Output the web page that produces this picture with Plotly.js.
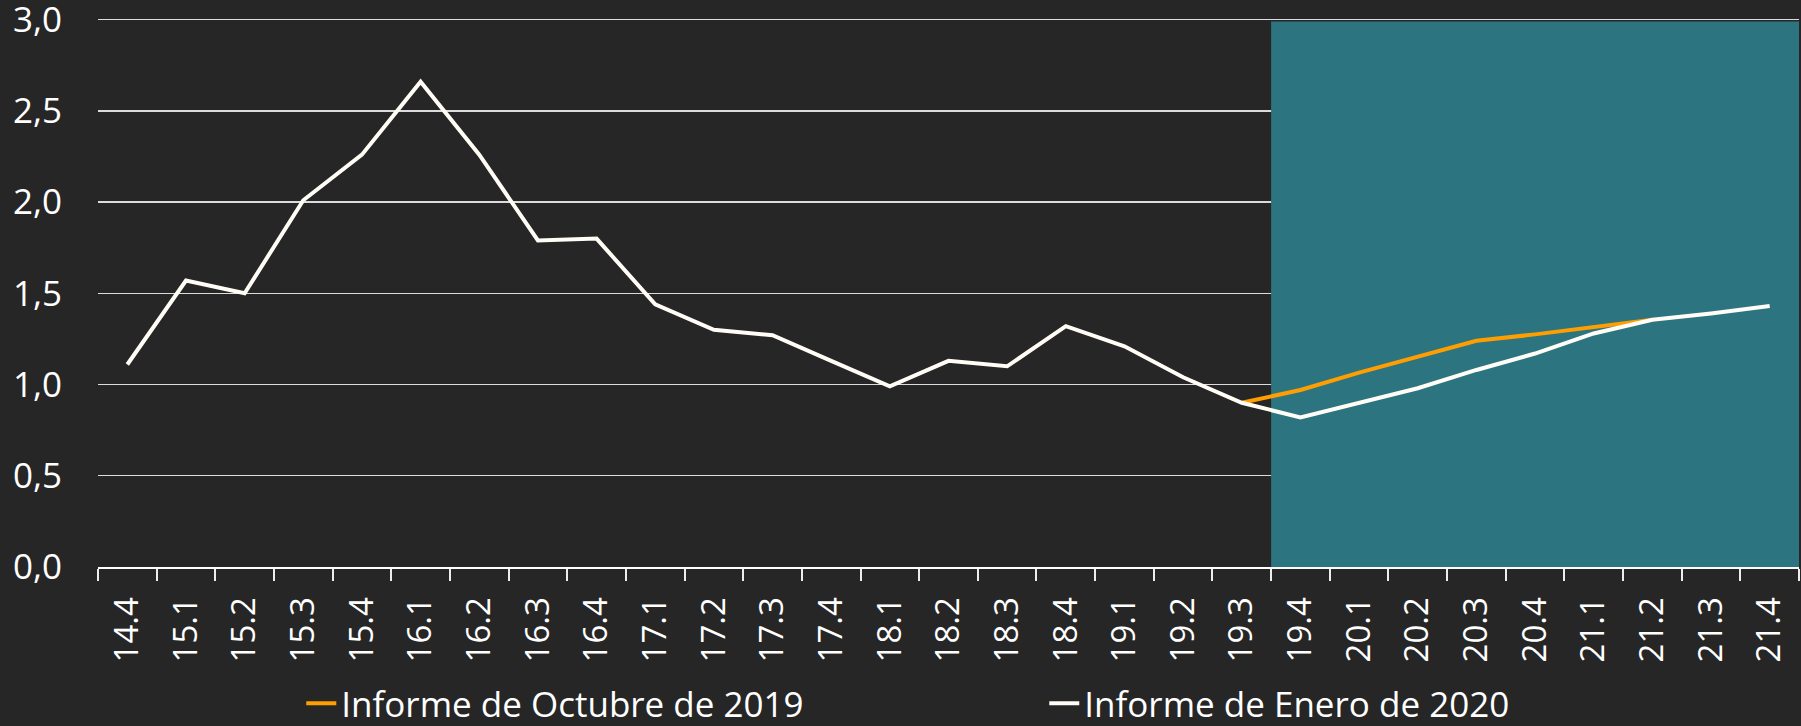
<!DOCTYPE html>
<html>
<head>
<meta charset="utf-8">
<script src="https://cdn.plot.ly/plotly-3.0.1.min.js"></script>
<style>
  html, body { margin: 0; padding: 0; background: #262626; }
  #chart { width: 1801px; height: 726px; }
</style>
</head>
<body>
<div id="chart"></div>
<script>
// Quarter labels (year.quarter)
const categories = ["14.4","15.1","15.2","15.3","15.4","16.1","16.2","16.3","16.4",
  "17.1","17.2","17.3","17.4","18.1","18.2","18.3","18.4","19.1","19.2","19.3",
  "19.4","20.1","20.2","20.3","20.4","21.1","21.2","21.3","21.4"];

// Informe de Enero de 2020 (white)
const enero2020 = [1.11, 1.57, 1.50, 2.01, 2.26, 2.66, 2.26, 1.79, 1.80,
  1.44, 1.30, 1.27, 1.13, 0.99, 1.13, 1.10, 1.32, 1.21, 1.04, 0.90,
  0.82, 0.90, 0.98, 1.08, 1.17, 1.28, 1.355, 1.39, 1.43];

// Informe de Octubre de 2019 (orange), visible from 19.3 to 21.2
const octubreCats = ["19.3","19.4","20.1","20.2","20.3","20.4","21.1","21.2"];
const octubre2019 = [0.90, 0.97, 1.065, 1.15, 1.24, 1.275, 1.315, 1.355];

const seriesNames = ["Informe de Octubre de 2019", "Informe de Enero de 2020"];
const forecastFirst = "19.4";
const yTicks = [0, 0.5, 1, 1.5, 2, 2.5, 3];

const forecastStart = categories.indexOf(forecastFirst) - 0.5;
const forecastEnd = categories.length - 0.5;

const traces = [
  {
    x: octubreCats, y: octubre2019, type: "scatter", mode: "lines",
    name: seriesNames[0],
    line: { color: "#FF9E00", width: 4 },
    hoverinfo: "skip"
  },
  {
    x: categories, y: enero2020, type: "scatter", mode: "lines",
    name: seriesNames[1],
    line: { color: "#FFFDF6", width: 4 },
    hoverinfo: "skip"
  }
];

const layout = {
  width: 1801, height: 726,
  paper_bgcolor: "#262626",
  plot_bgcolor: "#262626",
  separators: ",.",
  margin: { l: 98, r: 2, t: 16, b: 159, autoexpand: false },
  font: { family: "Open Sans, sans-serif", color: "#FFFFFF" },
  showlegend: true,
  legend: {
    orientation: "h",
    x: 0.1195, xanchor: "left",
    y: -0.2477, yanchor: "middle",
    font: { size: 35, color: "#FFFFFF" },
    bgcolor: "rgba(0,0,0,0)",
    entrywidth: 698,
    traceorder: "normal"
  },
  xaxis: {
    type: "category",
    categoryorder: "array",
    categoryarray: categories,
    range: [-0.5, categories.length - 0.5],
    automargin: false,
    showgrid: false,
    zeroline: false,
    showline: true,
    linecolor: "#FFFFFF",
    linewidth: 2,
    ticks: "outside",
    tickson: "boundaries",
    ticklen: 12,
    tickwidth: 2,
    tickcolor: "#EDEDED",
    tickangle: -90,
    ticklabelstandoff: 15,
    ticklabeloverflow: "allow",
    tickfont: { size: 33, color: "#FFFFFF" },
    fixedrange: true
  },
  yaxis: {
    range: [0, 3.02],
    automargin: false,
    tickvals: yTicks,
    tickformat: ".1f",
    showgrid: true,
    gridcolor: "#DCDCDC",
    gridwidth: 1.3,
    zeroline: false,
    showline: false,
    ticks: "",
    ticklabelstandoff: 35,
    ticklabeloverflow: "allow",
    tickfont: { size: 35, color: "#FFFFFF" },
    fixedrange: true
  },
  shapes: [
    {
      type: "rect", xref: "x", yref: "y",
      x0: forecastStart, x1: forecastEnd, y0: 0, y1: 2.99,
      fillcolor: "#2C7480", line: { width: 0 },
      layer: "between"
    },
    {
      type: "line", xref: "x", yref: "y",
      x0: forecastStart, x1: forecastEnd, y0: -0.01, y1: -0.01,
      line: { color: "#D81B60", width: 1.2 },
      layer: "above"
    }
  ]
};

Plotly.newPlot("chart", traces, layout, { displayModeBar: false, staticPlot: true });
</script>
</body>
</html>
